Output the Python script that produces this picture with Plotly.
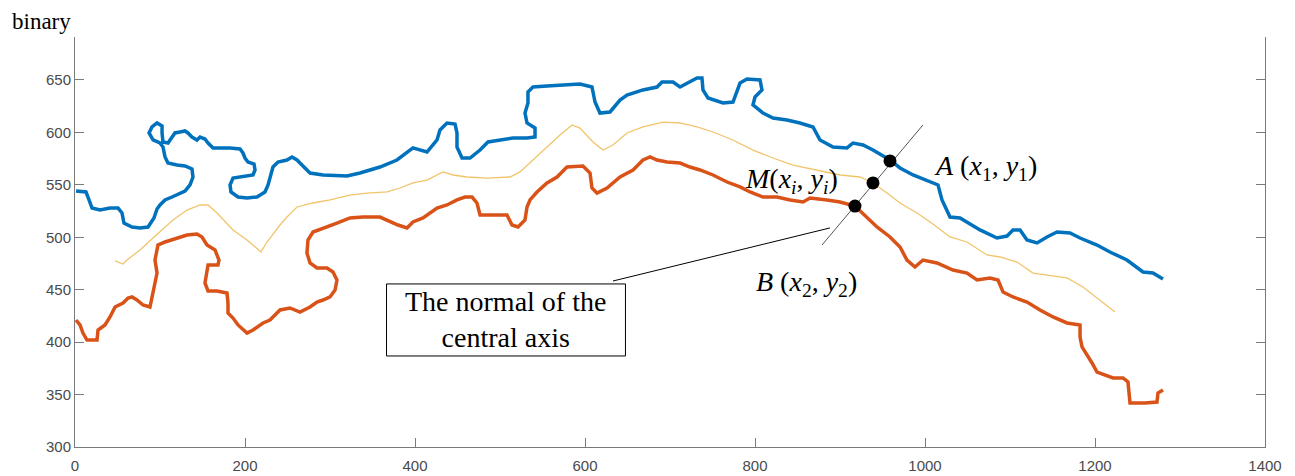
import plotly.graph_objects as go

# Blue (upper boundary)
blue_x = [1.2, 12.9, 16.5, 20, 29.4, 41.2, 50.6, 55.3, 57.6, 67.1, 76.5, 85.9, 92.9, 96.5, 100, 105.9,
          114.1, 120, 129.4, 135.3, 138.8, 137.6, 129.4, 120, 109.4, 105.9, 103.5, 100, 91.8, 87.1, 90.6,
          96.5, 102.4, 102.4, 103.5, 109.4, 114.1, 117.6, 123.5, 129.4, 132.9, 137.6, 143.5, 147.1, 152.9,
          156.5, 162.4, 170.6, 182.4, 194.1, 197.6, 200, 203.5, 210.6, 211.8, 209.4, 203.5, 194.1, 185.9,
          182.4, 183.5, 191.8, 202.4, 214.1, 223.5, 227.1, 229.4, 232.9, 238.8, 249.4, 255.3, 261.2, 264.7,
          276.5, 291.8, 320, 335.3, 358.8, 378.8, 397.6, 414.1, 425.9, 429.4, 437.6, 447.1, 449.4, 449.4,
          455.3, 464.7, 476.5, 485.9, 500, 515.3, 531.8, 541.2, 541.2, 531.8, 529.4, 532.9, 532.9, 538.8,
          555.3, 574.1, 594.1, 608.2, 611.8, 617.6, 629.4, 641.2, 649.4, 668.2, 684.7, 690.6, 703.5, 711.8,
          723.5, 731.8, 737.6, 738.8, 744.7, 762.4, 774.1, 778.8, 782.4, 790.6, 805.9, 808.2, 800, 797.6,
          809.4, 821.2, 837.6, 852.9, 868.2, 876.5, 891.8, 908.2, 915.3, 927.1, 938.8, 958.8, 970.6, 985.9,
          1009.4, 1015.3, 1020, 1029.4, 1041.2, 1064.7, 1084.7, 1096.5, 1103.5, 1111.8, 1120, 1131.8, 1143.5,
          1155.3, 1170.6, 1182.4, 1202.4, 1217.6, 1237.6, 1256.5, 1268.2, 1280]
blue_y = [544.1, 543.2, 535.6, 527.9, 526.0, 527.9, 527.9, 523.2, 513.6, 509.8, 508.9, 509.8, 518.4, 527.0,
          530.8, 535.6, 538.4, 540.3, 544.1, 549.9, 557.5, 565.1, 568.0, 568.9, 570.8, 576.6, 586.1, 589.9,
          592.8, 599.5, 605.2, 609.0, 606.1, 599.5, 590.9, 589.9, 595.6, 599.5, 600.4, 601.4, 599.5, 595.6,
          592.8, 595.6, 593.7, 589.9, 585.2, 585.2, 585.2, 584.2, 580.4, 575.6, 571.8, 569.9, 564.2, 559.4,
          558.5, 557.5, 556.5, 549.9, 543.2, 538.4, 537.5, 538.4, 543.2, 549.9, 557.5, 567.0, 571.8, 573.7,
          576.6, 573.7, 570.8, 561.3, 559.4, 558.5, 561.3, 567.0, 573.7, 585.2, 581.3, 592.8, 602.3, 609.0,
          608.0, 599.5, 586.1, 575.6, 575.6, 583.2, 590.9, 592.8, 594.7, 594.7, 595.6, 604.2, 609.0, 618.5,
          628.1, 638.6, 643.3, 644.3, 645.2, 646.2, 643.3, 629.0, 618.5, 619.5, 630.9, 635.7, 640.5, 643.3,
          648.1, 648.1, 643.3, 648.1, 651.9, 651.9, 640.5, 632.8, 628.1, 629.0, 638.6, 647.1, 651.0, 650.0,
          640.5, 633.8, 626.2, 618.5, 613.8, 611.9, 609.0, 605.2, 592.8, 586.1, 585.2, 589.9, 588.0, 583.2,
          573.7, 566.1, 559.4, 551.8, 549.9, 535.6, 519.3, 518.4, 507.0, 499.3, 501.2, 507.0, 507.0, 497.4,
          494.6, 500.3, 505.0, 504.1, 499.3, 492.6, 486.0, 478.3, 466.9, 465.9, 460.2]

# Red (lower boundary)
red_x = [1.2, 5.9, 9.4, 14.1, 25.9, 27.1, 35.3, 41.2, 47.1, 56.5, 62.4, 67.1, 72.9, 80, 88.2, 90.6, 94.1,
         96.5, 94.1, 97.6, 105.9, 120, 131.8, 143.5, 149.4, 155.3, 164.7, 169.4, 168.2, 156.5, 155.3, 152.9,
         156.5, 167.1, 178.8, 180, 180, 185.9, 191.8, 202.4, 209.4, 221.2, 229.4, 241.2, 252.9, 264.7,
         276.5, 284.7, 291.8, 300, 305.9, 308.2, 303.5, 296.5, 284.7, 276.5, 272.9, 274.1, 280, 291.8,
         308.2, 323.5, 338.8, 358.8, 370.6, 380, 390.6, 397.6, 409.4, 425.9, 437.6, 449.4, 458.8, 467.1,
         472.9, 476.5, 488.2, 508.2, 514.1, 521.2, 529.4, 531.8, 535.3, 543.5, 555.3, 567.1, 578.8, 597.6,
         605.9, 608.2, 614.1, 625.9, 641.2, 656.5, 668.2, 676.5, 684.7, 696.5, 711.8, 723.5, 735.3, 750.6,
         767.1, 782.4, 794.1, 809.4, 825.9, 841.2, 856.5, 864.7, 884.7, 900, 917.6, 931.8, 943.5, 958.8,
         970.6, 978.8, 988.2, 997.6, 1014.1, 1032.9, 1049.4, 1061.2, 1076.5, 1085.9, 1091.8, 1103.5, 1120,
         1135.3, 1150.6, 1167.1, 1182.4, 1182.4, 1184.7, 1196.5, 1202.4, 1221.2, 1232.9, 1238.8, 1240,
         1241.2, 1258.8, 1272.9, 1274.1, 1280]
red_y = [421.1, 416.4, 408.7, 402.0, 402.0, 411.6, 416.4, 424.0, 433.5, 437.3, 442.1, 443.1, 440.2, 435.4,
         433.5, 443.1, 456.4, 465.9, 478.3, 492.6, 495.5, 499.3, 502.2, 503.1, 500.3, 492.6, 487.9, 478.3,
         473.6, 473.6, 465.9, 456.4, 448.8, 448.8, 446.9, 437.3, 427.8, 423.0, 416.4, 408.7, 411.6, 418.3,
         421.1, 430.7, 432.6, 428.7, 433.5, 438.3, 440.2, 443.1, 449.7, 459.3, 466.9, 470.7, 470.7, 475.5,
         485.0, 497.4, 505.0, 508.9, 513.6, 518.4, 519.3, 519.3, 514.6, 511.7, 508.9, 514.6, 518.4, 527.9,
         530.8, 535.6, 538.4, 538.4, 532.7, 521.3, 521.3, 521.3, 511.7, 509.8, 516.5, 528.9, 535.6, 543.2,
         551.8, 557.5, 567.0, 568.0, 561.3, 547.0, 542.2, 547.0, 557.5, 564.2, 573.7, 576.6, 573.7, 571.8,
         570.8, 567.0, 564.2, 559.4, 552.7, 548.0, 543.2, 538.4, 538.4, 535.6, 533.7, 537.5, 535.6, 533.7,
         529.8, 519.3, 509.8, 500.3, 490.7, 478.3, 471.7, 478.3, 475.5, 468.8, 465.9, 459.3, 461.2, 459.3,
         447.8, 443.1, 438.3, 430.7, 424.0, 418.3, 416.4, 404.9, 395.4, 380.1, 371.5, 365.8, 365.8, 362.0,
         349.6, 342.0, 342.0, 342.9, 351.5, 354.4]

# Yellow (central axis)
mid_x = [47.1, 56.5, 61.2, 76.5, 91.8, 102.4, 115.3, 131.8, 147.1, 156.5, 167.1, 185.9, 202.4, 218.8, 225.9,
         241.2, 249.4, 261.2, 280, 300, 323.5, 343.5, 367.1, 382.4, 397.6, 414.1, 432.9, 444.7, 461.2, 484.7,
         511.8, 523.5, 538.8, 555.3, 570.6, 584.7, 594.1, 609.4, 621.2, 632.9, 649.4, 668.2, 691.8, 711.8,
         731.8, 750.6, 774.1, 797.6, 821.2, 844.7, 872.9, 900, 923.5, 938.8, 955.3, 970.6, 990.6, 1009.4,
         1029.4, 1049.4, 1072.9, 1088.2, 1108.2, 1127.1, 1143.5, 1167.1, 1185.9, 1205.9, 1223.5]
mid_y = [477.4, 474.5, 478.3, 487.9, 499.3, 506.9, 516.5, 526.0, 530.8, 530.8, 523.2, 506.9, 497.4, 486.0,
         495.5, 511.7, 519.3, 528.9, 532.7, 535.6, 540.3, 542.2, 543.2, 547.0, 551.8, 554.6, 562.3, 559.4,
         557.5, 556.5, 557.5, 562.3, 573.7, 586.1, 597.6, 607.1, 604.2, 590.9, 583.2, 588.0, 599.5, 605.2,
         609.9, 609.0, 605.2, 600.4, 592.8, 583.2, 575.6, 568.9, 564.2, 559.4, 557.5, 551.8, 542.2, 532.7,
         523.2, 512.7, 500.3, 495.5, 483.1, 481.2, 476.4, 465.9, 464.0, 461.2, 452.6, 440.2, 428.7]

# Normal line and its three points A, M, B
normal_x = [878.8, 997.6]
normal_y = [492.6, 607.1]
pts_x = [958.8, 938.8, 917.6]
pts_y = [572.8, 551.8, 529.8]

# Callout box corners and leader line ends (data units)
box_x = [366.5, 647.6]
box_y = [386.8, 455.5]
leader_x = [632.9, 888.2]
leader_y = [458.3, 508.9]

x_ticks = [0, 200, 400, 600, 800, 1000, 1200, 1400]
y_ticks = [300, 350, 400, 450, 500, 550, 600, 650]

fig = go.Figure()
fig.add_trace(go.Scatter(x=mid_x, y=mid_y, mode="lines",
                         line=dict(color="#F2C46A", width=1.3), showlegend=False))
fig.add_trace(go.Scatter(x=blue_x, y=blue_y, mode="lines",
                         line=dict(color="#0072BD", width=3.5), showlegend=False))
fig.add_trace(go.Scatter(x=red_x, y=red_y, mode="lines",
                         line=dict(color="#D95319", width=3.5), showlegend=False))
fig.add_trace(go.Scatter(x=normal_x, y=normal_y, mode="lines",
                         line=dict(color="#555555", width=1), showlegend=False))
fig.add_trace(go.Scatter(x=leader_x, y=leader_y, mode="lines",
                         line=dict(color="black", width=1), showlegend=False))
fig.add_trace(go.Scatter(x=pts_x, y=pts_y, mode="markers",
                         marker=dict(color="black", size=13), showlegend=False))

fig.add_shape(type="rect", xref="x", yref="y", x0=box_x[0], x1=box_x[1], y0=box_y[0], y1=box_y[1],
              line=dict(color="black", width=1), fillcolor="white", layer="above")

serif = "Liberation Serif"
ann_font = dict(family=serif, size=28, color="black")
fig.add_annotation(x=1070.6, y=567, xref="x", yref="y", showarrow=False, font=ann_font,
                   text="<i>A</i> (<i>x</i><sub>1</sub>, <i>y</i><sub>1</sub>)")
fig.add_annotation(x=843.5, y=553.7, xref="x", yref="y", showarrow=False, font=ann_font,
                   text="<i>M</i>(<i>x</i><sub><i>i</i></sub>, <i>y</i><sub><i>i</i></sub>)")
fig.add_annotation(x=861, y=456.4, xref="x", yref="y", showarrow=False, font=ann_font,
                   text="<i>B</i> (<i>x</i><sub>2</sub>, <i>y</i><sub>2</sub>)")

fig.add_annotation(x=(box_x[0] + box_x[1]) / 2, y=(box_y[0] + box_y[1]) / 2, xref="x", yref="y",
                   showarrow=False, text="The normal of the<br>central axis",
                   font=dict(family=serif, size=28, color="black"), align="center")

fig.add_annotation(x=0, y=1, xref="paper", yref="paper", xanchor="center", yanchor="middle",
                   xshift=-34, yshift=16, showarrow=False, text="binary",
                   font=dict(family=serif, size=23, color="black"))

axis_common = dict(showgrid=False, zeroline=False, showline=True, linecolor="#7a7a7a", linewidth=1,
                   ticks="inside", ticklen=9, tickcolor="#7a7a7a", automargin=False,
                   tickfont=dict(family="Liberation Sans", size=15, color="#4a4a4a"))
fig.update_xaxes(range=[0, 1400], tickvals=x_ticks, ticklabelstandoff=5, **axis_common)
fig.update_yaxes(range=[300, 691], tickvals=y_ticks, mirror="ticks", **axis_common)

fig.update_layout(width=1295, height=476, margin=dict(l=75, r=30, t=37, b=29),
                  plot_bgcolor="white", paper_bgcolor="white")

fig.write_html("out.html")
